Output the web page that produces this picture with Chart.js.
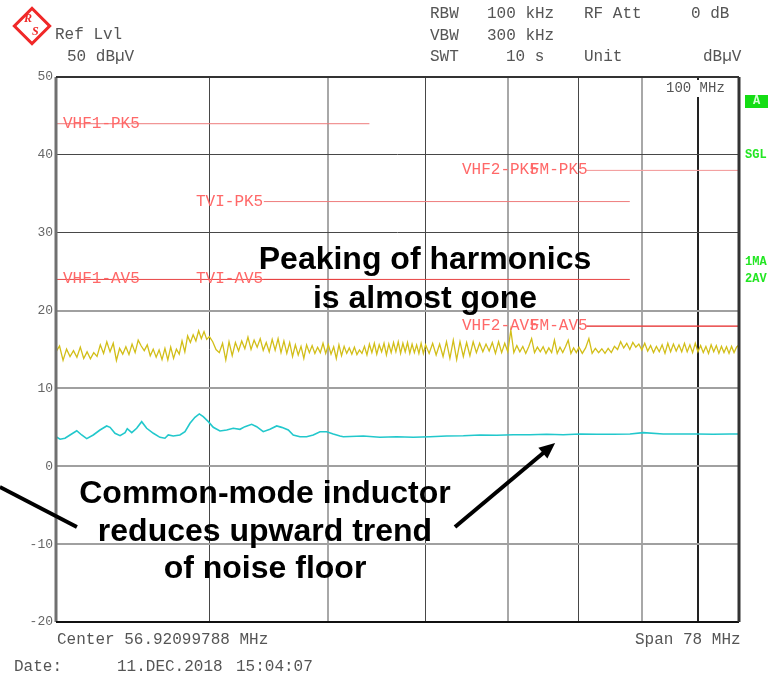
<!DOCTYPE html>
<html><head><meta charset="utf-8">
<script src="https://cdn.jsdelivr.net/npm/chart.js@4"></script>
<style>
html,body{margin:0;padding:0;background:#fff;}
#wrap{position:relative;width:769px;height:675px;overflow:hidden;background:#fff;}
#c{position:absolute;left:0;top:0;}
.t{position:absolute;font-family:"Liberation Mono",monospace;font-size:16px;line-height:16px;color:#555;white-space:pre;}
.g{position:absolute;font-family:"Liberation Mono",monospace;font-weight:bold;font-size:12px;line-height:12px;color:#22e622;white-space:pre;}
.lim{position:absolute;font-family:"Liberation Mono",monospace;font-size:16px;line-height:16px;color:#ff6868;white-space:pre;}
.ann{position:absolute;font-family:"Liberation Sans",Arial,sans-serif;font-weight:bold;font-size:32px;line-height:32px;color:#000;white-space:pre;transform:translateX(-50%);}
#logo{position:absolute;left:18px;top:12px;width:22px;height:22px;border:3px solid #f02828;transform:rotate(45deg);}
.lg{position:absolute;font-family:"Liberation Serif",serif;font-style:italic;font-weight:bold;font-size:12px;line-height:12px;color:#f02828;}
</style></head>
<body>
<div id="wrap">
<canvas id="c" width="769" height="675"></canvas>
<div id="logo"></div>
<div class="lg" style="left:24px;top:12px;">R</div>
<div class="lg" style="left:32px;top:25px;">S</div>
<div class="t" style="left:55px;top:27px;">Ref Lvl</div>
<div class="t" style="left:67px;top:49px;">50 dBµV</div>
<div class="t" style="left:430px;top:6px;">RBW</div>
<div class="t" style="left:487px;top:6px;">100 kHz</div>
<div class="t" style="left:584px;top:6px;">RF Att</div>
<div class="t" style="left:691px;top:6px;">0 dB</div>
<div class="t" style="left:430px;top:28px;">VBW</div>
<div class="t" style="left:487px;top:28px;">300 kHz</div>
<div class="t" style="left:430px;top:49px;">SWT</div>
<div class="t" style="left:506px;top:49px;">10 s</div>
<div class="t" style="left:584px;top:49px;">Unit</div>
<div class="t" style="left:703px;top:49px;">dBµV</div>
<div class="t" style="left:664px;top:80px;height:17px;line-height:17px;font-size:14px;background:#fff;padding:0 2px;">100 MHz</div>
<div class="t" style="left:57px;top:632px;">Center 56.92099788 MHz</div>
<div class="t" style="left:635px;top:632px;">Span 78 MHz</div>
<div class="t" style="left:14px;top:659px;">Date:</div>
<div class="t" style="left:117px;top:659px;">11.DEC.2018</div>
<div class="t" style="left:236px;top:659px;">15:04:07</div>
<div class="g" style="left:745px;top:95px;width:23px;height:13px;line-height:13px;background:#14dd14;color:#d8ffd8;text-align:center;">A</div>
<div class="g" style="left:745px;top:149px;">SGL</div>
<div class="g" style="left:745px;top:256px;">1MA</div>
<div class="g" style="left:745px;top:273px;">2AV</div>
<div class="ann" style="left:425px;top:242px;">Peaking of harmonics</div>
<div class="ann" style="left:425px;top:281px;">is almost gone</div>
<div class="ann" style="left:265px;top:476px;">Common-mode inductor</div>
<div class="ann" style="left:265px;top:514px;">reduces upward trend</div>
<div class="ann" style="left:265px;top:551px;">of noise floor</div>
</div>
<script>
// ---- data ----
const yTicks = [50, 40, 30, 20, 10, 0, -10, -20];
const xGridMHz = [40, 50, 60, 70, 80, 90, 100];

const freqPeak = [
30.0,30.2,30.4,30.6,30.8,31.0,31.2,31.4,31.6,31.8,32.0,32.2,32.4,32.6,32.8,33.0,33.2,33.4,33.6,33.8,
34.0,34.2,34.4,34.6,34.8,35.0,35.2,35.4,35.6,35.8,36.0,36.2,36.4,36.6,36.8,37.0,37.2,37.4,37.6,37.8,
38.0,38.2,38.4,38.6,38.8,39.0,39.2,39.4,39.6,39.8,40.0,
40.25,40.5,40.75,41.0,41.25,41.5,41.75,42.0,42.25,42.5,42.75,43.0,43.25,43.5,43.75,44.0,44.25,44.5,44.75,45.0,
45.25,45.5,45.75,46.0,46.25,46.5,46.75,47.0,47.25,47.5,47.75,48.0,48.25,48.5,48.75,49.0,49.25,49.5,49.75,50.0,
50.25,50.5,50.75,51.0,51.25,51.5,51.75,52.0,52.25,52.5,52.75,53.0,53.25,53.5,53.75,54.0,54.25,54.5,54.75,55.0,
55.25,55.5,55.75,56.0,56.25,56.5,56.75,57.0,57.25,57.5,57.75,58.0,58.25,58.5,58.75,59.0,59.25,59.5,59.75,60.0,
60.4,60.8,61.2,61.6,62.0,62.4,62.8,63.2,63.6,64.0,64.4,64.8,65.2,65.6,66.0,66.4,66.8,67.2,67.6,68.0,
68.4,68.8,69.2,69.6,70.0,70.4,70.8,71.2,71.6,72.0,72.4,72.8,73.2,73.6,74.0,74.4,74.8,75.2,75.6,76.0,
76.4,76.8,77.2,77.6,78.0,78.4,78.8,79.2,79.6,80.0,
80.5,81.0,81.5,82.0,82.5,83.0,83.5,84.0,84.5,85.0,85.5,86.0,86.5,87.0,87.5,88.0,88.5,89.0,89.5,90.0,
90.5,91.0,91.5,92.0,92.5,93.0,93.5,94.0,94.5,95.0,95.5,96.0,96.5,97.0,97.5,98.0,98.5,99.0,99.5,100.0,
100.5,101.0,101.5,102.0,102.5,103.0,103.5,104.0,104.5,105.0,105.5,106.0,106.5,107.0,107.5,108.0
];
const levelPeak = [
14.7,15.45,13.6,15.05,14.1,14.85,14.0,15.3,13.85,14.7,13.8,14.6,14.1,15.6,14.5,16.0,14.7,15.8,13.6,15.15,
14.4,15.35,14.35,15.7,14.6,16.2,15.45,14.85,15.6,14.2,15.05,14.0,14.95,13.7,15.15,13.65,15.3,13.85,15.05,14.4,
16.1,14.7,16.75,15.9,16.9,16.1,17.4,16.4,17.3,16.3,16.65,
16.0,15.0,14.6,15.8,13.65,16.0,14.2,15.9,14.8,16.1,15.1,16.6,15.0,16.2,15.3,16.4,14.9,15.9,14.7,16.3,
14.9,16.4,14.6,16.1,14.5,15.9,14.1,15.6,14.3,15.4,13.85,15.6,14.6,15.5,14.5,15.3,14.6,15.8,14.5,15.6,
14.4,15.35,13.85,15.6,14.2,15.4,14.5,15.2,14.4,15.3,14.35,14.95,14.5,15.4,14.3,15.7,14.6,15.8,14.4,15.6,
14.7,15.8,14.3,15.7,14.6,15.9,14.7,16.0,14.5,15.8,14.7,15.9,14.5,15.7,14.6,15.6,14.5,15.8,14.5,15.6,
14.5,15.8,14.3,15.7,14.1,16.0,13.85,16.2,13.7,16.0,14.1,15.9,14.2,16.0,14.6,15.8,14.7,15.7,14.8,15.9,
14.5,16.0,14.6,15.8,14.7,17.5,14.6,15.5,14.7,15.4,14.5,15.35,16.4,14.6,15.3,14.7,15.35,14.5,15.2,14.6,
16.2,14.5,15.3,14.6,15.35,16.2,14.5,15.2,14.6,15.3,
14.5,15.2,16.4,14.5,15.15,14.6,15.1,14.5,15.15,14.6,15.4,15.0,16.0,15.2,15.8,15.0,15.9,15.3,15.7,14.95,
15.8,14.8,15.5,14.6,15.4,14.7,15.6,14.5,15.8,14.7,15.7,14.8,15.6,14.7,15.8,14.7,15.6,14.6,15.8,14.7,
15.5,14.6,15.4,14.5,15.6,14.7,15.5,14.5,15.4,14.6,15.35,14.5,15.4,14.6,15.3,15.6
];

const freqAvg = [
30.00,30.23,30.51,30.80,31.19,31.48,31.78,32.17,32.58,32.99,33.20,33.51,33.83,34.15,34.29,34.58,34.90,35.23,35.56,36.01,
36.46,36.80,37.03,37.38,37.85,38.21,38.57,38.93,39.25,39.54,39.92,40.29,40.80,41.32,41.83,42.36,42.76,43.30,43.71,44.25,
44.81,45.38,45.81,46.38,46.81,47.41,48.00,48.60,49.22,49.84,50.46,51.10,51.42,53.38,55.08,56.83,58.63,60.50,62.42,64.40,
66.44,68.56,70.73,72.98,75.29,77.67,80.14,82.70,85.31,88.03,90.25,93.69,96.68,99.75,102.9,106.18,107.85
];
const levelAvg = [
3.80,3.47,3.60,4.02,4.57,4.02,3.55,4.02,4.66,5.18,5.00,4.24,3.93,4.32,4.83,4.32,4.88,5.73,4.88,4.24,
3.72,3.60,4.02,3.89,4.02,4.44,5.52,6.29,6.72,6.37,5.73,5.01,4.53,4.66,4.88,4.75,5.09,5.39,5.09,4.44,
4.75,5.18,5.00,4.66,4.02,3.80,3.80,4.02,4.44,4.44,4.15,3.89,3.80,3.89,3.72,3.80,3.72,3.80,3.89,3.93,
4.02,3.98,4.06,4.06,4.11,4.06,4.15,4.11,4.11,4.15,4.32,4.15,4.15,4.15,4.11,4.15,4.15
];

const limitNames  = ['VHF1-PK5','VHF1-AV5','TVI-PK5','TVI-AV5','VHF2-PK5','VHF2-AV5','FM-PK5','FM-AV5'];
const limitLevels = [44, 24, 34, 24, 38, 18, 38, 18];
const limitStartMHz = [30, 30, 44.3, 44.3, 81.1, 81.1, 81.1, 81.1];
const limitEndMHz   = [54, 54, 88, 88, 108, 108, 108, 108];
const limitLabelMHz = [30.4, 30.4, 39, 39, 64.2, 64.2, 73, 73];

// annotation arrows (data coordinates: MHz, dBµV)
const arrowFromMHz = [27.0, 63.4];
const arrowFromDb  = [-2.66, -7.8];
const arrowToMHz   = [31.2, 76.5];
const arrowToDb    = [-7.8, 3.0];
const arrowHead    = [false, true];

// ---- build ----
const pkColors = ['#ee7c7c','#e84444','#ee7c7c','#e84444','#f4a2a2','#e84444','#f4a2a2','#e84444'];
const limitDatasets = limitNames.map((n, i) => ({
  label: n,
  data: [{x: limitStartMHz[i], y: limitLevels[i]}, {x: limitEndMHz[i], y: limitLevels[i]}],
  borderColor: pkColors[i], borderWidth: 1, pointRadius: 0, fill: false, tension: 0
}));

const wrap = document.getElementById('wrap');
const limDivs = limitNames.map(n => {
  const d = document.createElement('div');
  d.className = 'lim'; d.textContent = n; wrap.appendChild(d); return d;
});

const overlayPlugin = {
  id: 'overlay',
  afterDatasetsDraw(chart) {
    const {ctx, chartArea: a} = chart;
    ctx.save();
    ctx.lineCap = 'butt';
    ctx.strokeStyle = '#707070'; ctx.lineWidth = 3;
    ctx.beginPath(); ctx.moveTo(a.left, a.top); ctx.lineTo(a.left, a.bottom); ctx.stroke();
    ctx.strokeStyle = '#333'; ctx.lineWidth = 2;
    ctx.beginPath(); ctx.moveTo(a.left, a.top); ctx.lineTo(a.right, a.top); ctx.stroke();
    ctx.strokeStyle = '#111'; ctx.lineWidth = 2;
    ctx.beginPath(); ctx.moveTo(a.left, a.bottom); ctx.lineTo(a.right, a.bottom); ctx.stroke();
    ctx.strokeStyle = '#333'; ctx.lineWidth = 3;
    ctx.beginPath(); ctx.moveTo(a.right, a.top); ctx.lineTo(a.right, a.bottom); ctx.stroke();
    ctx.restore();
  },
  afterDraw(chart) {
    const {ctx, scales: {x, y}} = chart;
    ctx.save();
    ctx.strokeStyle = '#000'; ctx.fillStyle = '#000'; ctx.lineWidth = 4; ctx.lineCap = 'butt';
    for (let i = 0; i < arrowFromMHz.length; i++) {
      const x0 = x.getPixelForValue(arrowFromMHz[i]), y0 = y.getPixelForValue(arrowFromDb[i]);
      const x1 = x.getPixelForValue(arrowToMHz[i]), y1 = y.getPixelForValue(arrowToDb[i]);
      const ang = Math.atan2(y1 - y0, x1 - x0);
      const hl = arrowHead[i] ? 16 : 0;
      ctx.beginPath(); ctx.moveTo(x0, y0);
      ctx.lineTo(x1 - Math.cos(ang) * hl * 0.8, y1 - Math.sin(ang) * hl * 0.8); ctx.stroke();
      if (arrowHead[i]) {
        ctx.beginPath();
        ctx.moveTo(x1, y1);
        ctx.lineTo(x1 - hl * Math.cos(ang) + 7 * Math.sin(ang), y1 - hl * Math.sin(ang) - 7 * Math.cos(ang));
        ctx.lineTo(x1 - hl * Math.cos(ang) - 7 * Math.sin(ang), y1 - hl * Math.sin(ang) + 7 * Math.cos(ang));
        ctx.closePath(); ctx.fill();
      }
    }
    ctx.restore();
    limDivs.forEach((d, i) => {
      d.style.left = Math.round(x.getPixelForValue(limitLabelMHz[i])) + 'px';
      d.style.top = Math.round(y.getPixelForValue(limitLevels[i]) - 8) + 'px';
    });
  }
};

new Chart(document.getElementById('c'), {
  type: 'line',
  data: {
    datasets: [
      ...limitDatasets,
      { label: 'Peak', data: freqPeak.map((f, i) => ({x: f, y: levelPeak[i]})),
        borderColor: '#d2be18', borderWidth: 1.3, pointRadius: 0, tension: 0 },
      { label: 'Average', data: freqAvg.map((f, i) => ({x: f, y: levelAvg[i]})),
        borderColor: '#22c8cc', borderWidth: 1.6, pointRadius: 0, tension: 0 }
    ]
  },
  options: {
    responsive: false, animation: false, devicePixelRatio: 1,
    layout: { padding: { left: 0, right: 30, top: 77, bottom: 53 } },
    plugins: { legend: { display: false }, tooltip: { enabled: false } },
    scales: {
      x: {
        type: 'logarithmic', min: 30, max: 108,
        afterBuildTicks: s => { s.ticks = xGridMHz.map(v => ({value: v})); },
        afterFit: s => { s.height = 0; },
        ticks: { display: false },
        border: { display: false },
        grid: {
          drawTicks: false,
          color: c => (c.tick && c.tick.value === 100) ? '#222' : ([40, 60, 80].includes(c.tick && c.tick.value) ? '#474747' : '#a8a8a8'),
          lineWidth: c => (c.tick && c.tick.value === 100) ? 2 : ([40, 60, 80].includes(c.tick && c.tick.value) ? 1 : 2)
        }
      },
      y: {
        min: -20, max: 50,
        afterBuildTicks: s => { s.ticks = yTicks.map(v => ({value: v})); },
        afterFit: s => { s.width = 56; },
        border: { display: false },
        ticks: { font: { family: 'Liberation Mono', size: 13 }, color: '#666', padding: 3 },
        grid: {
          drawTicks: false,
          color: c => ([40, 30].includes(c.tick && c.tick.value)) ? '#474747' : '#a0a0a0',
          lineWidth: c => ([40, 30].includes(c.tick && c.tick.value)) ? 1 : 2
        }
      }
    }
  },
  plugins: [overlayPlugin]
});
</script>
</body></html>
